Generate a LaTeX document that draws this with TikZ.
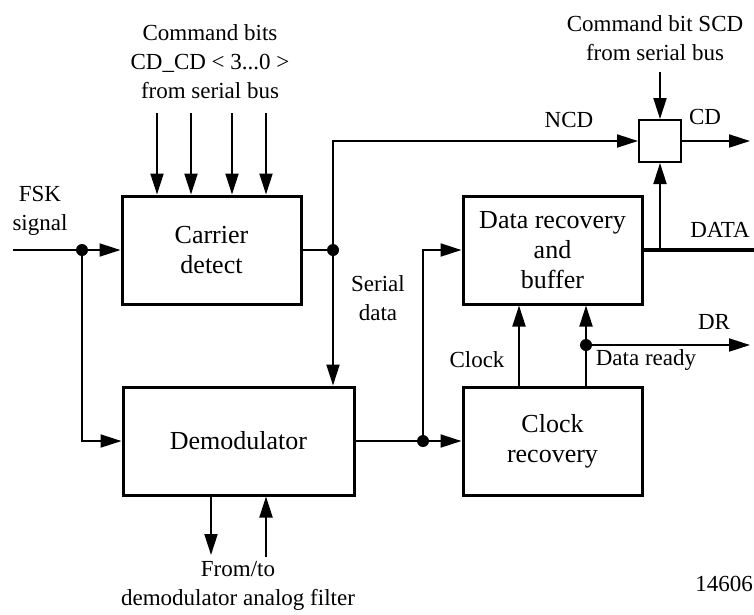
\documentclass[tikz,border=0pt]{standalone}
\usepackage{fontspec}
\setmainfont{Liberation Serif}
\usetikzlibrary{arrows.meta}

\begin{document}
\begin{tikzpicture}[x=1pt,y=-1pt,
    block/.style={draw,line width=3pt,inner sep=0pt,align=center,
      minimum width=179pt,minimum height=108pt,font=\fontsize{26}{30}\selectfont},
    lbl/.style={align=center,inner sep=0pt,font=\fontsize{23}{29}\selectfont},
    dot/.style={circle,fill,inner sep=0pt,minimum size=12pt},
    sig/.style={line width=2pt},
    flow/.style={sig,-{Triangle[length=21pt,width=13pt]}}]
  \useasboundingbox (0,0) rectangle (754,614);
  \draw
    (211.5,250) node[block] (carrier){Carrier\\detect}
    (238.5,441) node[block,minimum width=231pt] (demod){Demodulator}
    (552.5,250) node[block] (datarec){Data recovery\\and\\buffer}
    (552.5,441) node[block] (clockrec){Clock\\recovery}
    (660,141) node[draw,line width=2pt,minimum size=42pt,inner sep=0pt] (gate){}
    (82,250) node[dot] (d1){}
    (333,250) node[dot] (d2){}
    (423,441) node[dot] (d3){}
    (586,345) node[dot] (d5){};
  \draw
    (210,62) node[lbl] (cmdbits){Command bits\\CD\_CD < 3...0 >\\from serial bus}
    (40,211) node[lbl] (fsk){FSK\\signal}
    (655,38) node[lbl] (scdlbl){Command bit SCD\\from serial bus}
    (569,120) node[lbl] (ncd){NCD}
    (705,117) node[lbl] (cd){CD}
    (720,230) node[lbl] (data){DATA}
    (378,298) node[lbl] (serial){Serial\\data}
    (477,360) node[lbl] (clk){Clock}
    (646,360) node[lbl] (ready){Data ready}
    (714,322) node[lbl] (dr){DR}
    (238,586) node[lbl] (filter){From/to\\demodulator analog filter}
    (724,584) node[lbl] (fig){14606};
  \coordinate (fskin) at (13,250);
  \coordinate (scdin) at (660,72);
  \coordinate (cdout) at (750,141);
  \coordinate (dataout) at (760,250);
  \coordinate (drout) at (750,345);
  \coordinate (clkup) at (519,345);
  \coordinate (filtout) at (211,555);
  \coordinate (filtin) at (266,557);
  \begin{scope}[flow]
    \foreach \x [count=\i] in {157,191,232,266} {
      \coordinate (cmd\i) at (\x,113);
      \draw (cmd\i) -- (cmd\i |- carrier.north);
    }
    \draw[sig,-] (fskin) -- (d1);
    \draw (d1) -- (carrier);
    \draw (d1) |- (demod);
    \draw[sig,-] (carrier) -- (d2);
    \draw (d2) -- (d2 |- demod.north);
    \draw (d2) |- (gate);
    \draw (scdin) -- (gate);
    \draw (gate) -- (cdout);
    \draw (filtout |- demod.south) -- (filtout);
    \draw (filtin) -- (filtin |- demod.south);
    \draw[sig,-] (demod) -- (d3);
    \draw (d3) -- (clockrec);
    \draw (d3) |- (datarec);
    \draw[-,line width=4.5pt] (datarec) -- (dataout);
    \draw (datarec.east -| gate) -- (gate);
    \draw (clkup |- clockrec.north) -- (clkup |- datarec.south);
    \draw (d5 |- clockrec.north) -- (d5 |- datarec.south);
    \draw (d5) -- (drout);
  \end{scope}
\end{tikzpicture}
\end{document}
